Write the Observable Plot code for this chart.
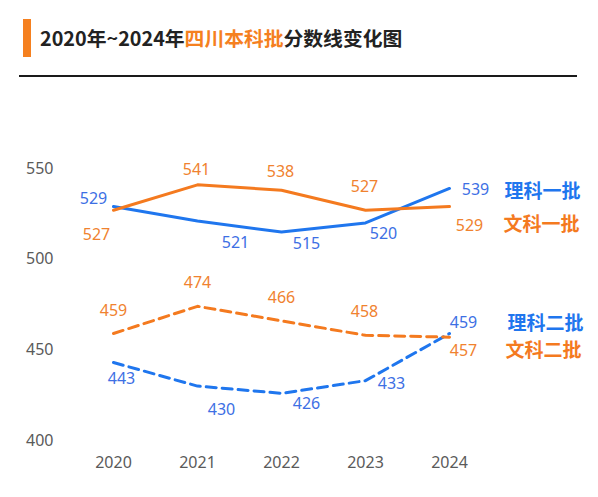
<!DOCTYPE html>
<html>
<head>
<meta charset="utf-8">
<script src="https://cdn.jsdelivr.net/npm/d3@7"></script>
<script src="https://cdn.jsdelivr.net/npm/@observablehq/plot@0.6"></script>
<style>
  html, body { margin: 0; padding: 0; background: #fff; }
  body { width: 598px; height: 497px; overflow: hidden; font-family: "Noto Sans CJK SC", "Noto Sans", sans-serif; }
  .head { position: relative; height: 85px; }
  .bar { position: absolute; left: 23px; top: 19px; width: 8px; height: 38px; background: #f5801f; }
  .title { position: absolute; left: 40px; top: 22px; font-size: 19.8px; font-weight: 700; color: #222; line-height: 32px; white-space: nowrap; }
  .title em { font-style: normal; color: #f5801f; }
  .rule { position: absolute; left: 19px; top: 75px; width: 558px; height: 2px; background: #1a1a1a; }
  #chart svg { display: block; }
</style>
</head>
<body>
<div class="head">
  <div class="bar"></div>
  <div class="title">2020年~2024年<em>四川本科批</em>分数线变化图</div>
  <div class="rule"></div>
</div>
<div id="chart"></div>
<script>
"use strict";
const years = [2020, 2021, 2022, 2023, 2024];
const seriesNames = ["理科一批", "文科一批", "理科二批", "文科二批"];
const liKeYiPi = [529, 521, 515, 520, 539];
const wenKeYiPi = [527, 541, 538, 527, 529];
const liKeErPi = [443, 430, 426, 433, 459];
const wenKeErPi = [459, 474, 466, 458, 457];
const yTicks = [400, 450, 500, 550];

const BLUE = "#1f76ee", ORANGE = "#f47a1f";
const BLUE_TXT = "#3d6fe4", ORANGE_TXT = "#f0822f";

// style per series: colour, dash, value-label offsets (dx, dy per year), legend offset
const STYLE = {
  "理科一批": { stroke: BLUE, text: BLUE_TXT, dash: null,
    offs: [[-20, -8], [38, 22], [25, 12], [18, 11], [26, 1]], leg: [55, 3] },
  "文科一批": { stroke: ORANGE, text: ORANGE_TXT, dash: null,
    offs: [[-17, 25], [-1, -15], [-1, -18], [-1, -23], [20, 19]], leg: [54, 18] },
  "理科二批": { stroke: BLUE, text: BLUE_TXT, dash: "10 6",
    offs: [[8, 16], [24, 24], [25, 11], [26, 3], [14, -11]], leg: [58, -10] },
  "文科二批": { stroke: ORANGE, text: ORANGE_TXT, dash: "10 6",
    offs: [[0, -23], [0, -23], [0, -23], [-1, -23], [14, 14]], leg: [56, 14] },
};

const valuesBySeries = {
  "理科一批": liKeYiPi, "文科一批": wenKeYiPi, "理科二批": liKeErPi, "文科二批": wenKeErPi,
};

const marks = [];
seriesNames.forEach((name) => {
  const st = STYLE[name];
  const rows = years.map((y, i) => ({ year: y, value: valuesBySeries[name][i], i }));
  marks.push(Plot.line(rows, {
    x: "year", y: "value", stroke: st.stroke, strokeWidth: 3,
    strokeDasharray: st.dash || undefined,
  }));
  rows.forEach((r) => {
    marks.push(Plot.text([r], {
      x: "year", y: "value", text: (d) => String(d.value),
      dx: st.offs[r.i][0], dy: st.offs[r.i][1],
      fill: st.text, fontSize: 16,
    }));
  });
  const last = rows[rows.length - 1];
  marks.push(Plot.text([last], {
    x: "year", y: "value", text: () => name,
    dx: st.leg[0], dy: st.leg[1], textAnchor: "start",
    fill: st.stroke, fontSize: 19, fontWeight: "bold",
  }));
});

const node = Plot.plot({
  width: 598, height: 412,
  marginLeft: 113, marginRight: 149, marginTop: 83, marginBottom: 57,
  style: { fontFamily: "'Noto Sans', 'Noto Sans CJK SC', sans-serif", background: "#fff", overflow: "visible" },
  x: { domain: [2020, 2024], axis: null },
  y: { domain: [400, 550], axis: null },
  marks: [
    Plot.axisX({ ticks: years, tickFormat: (d) => String(d), tickSize: 0, tickPadding: 16,
      fontSize: 16, color: "#5a5a5a", label: null }),
    Plot.axisY({ ticks: yTicks, tickSize: 0, tickPadding: 60, fontSize: 16, color: "#5a5a5a", label: null }),
    ...marks,
  ],
});
document.getElementById("chart").appendChild(node);
</script>
</body>
</html>
